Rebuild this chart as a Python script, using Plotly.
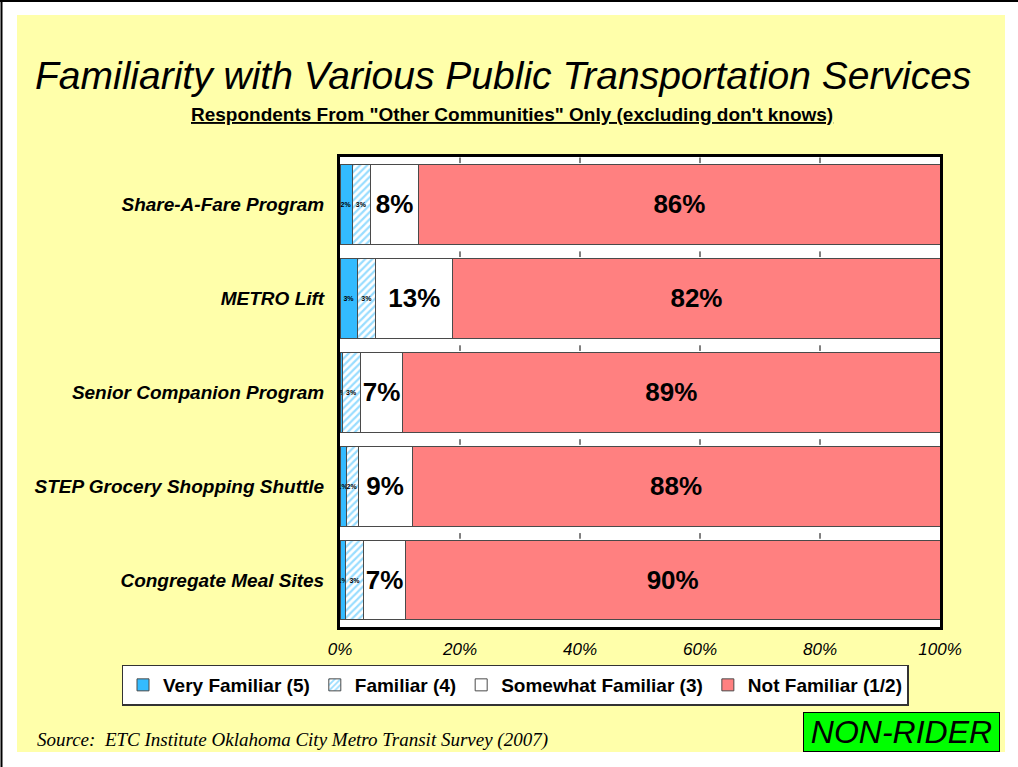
import plotly.graph_objects as go

categories = ["Share-A-Fare Program", "METRO Lift", "Senior Companion Program",
              "STEP Grocery Shopping Shuttle", "Congregate Meal Sites"]
very_familiar = [2, 3, 0.4, 1, 1]
familiar = [3, 3, 3, 2, 3]
somewhat_familiar = [8, 13, 7, 9, 7]
not_familiar = [86, 82, 89, 88, 90]
x_ticks = [0, 20, 40, 60, 80, 100]
x_tick_labels = ["0%", "20%", "40%", "60%", "80%", "100%"]

W, H = 1018, 767
ARIAL = "Arial, Liberation Sans, sans-serif"
TIMES = "Times New Roman, Liberation Serif, serif"
OUTLINE = dict(color="#4a4a4a", width=1)

fig = go.Figure()

def add_series(name, vals, color, small, pattern=None):
    marker = dict(color=color, line=OUTLINE)
    if pattern:
        marker["pattern"] = pattern
    fig.add_trace(go.Bar(
        name=name, y=categories, x=vals, orientation="h",
        marker=marker,
        text=[f"{round(v)}%" for v in vals],
        textposition="inside", insidetextanchor="middle",
        constraintext="none", textangle=0,
        textfont=dict(family=ARIAL, size=7 if small else 26, color="black", weight="bold"),
        hoverinfo="skip",
    ))

add_series("Very Familiar (5)", very_familiar, "#33BBFF", True)
add_series("Familiar (4)", familiar, "white", True,
           pattern=dict(shape="/", fgcolor="#33BBFF", bgcolor="white", size=5, solidity=0.45))
add_series("Somewhat Familiar (3)", somewhat_familiar, "white", False)
add_series("Not Familiar (1/2)", not_familiar, "#FF8080", False)

x0p, x1p = 340 / W, 940 / W
y0p, y1p = 1 - 627 / H, 1 - 157 / H

shapes = [
    dict(type="rect", xref="paper", yref="paper", x0=17 / W, x1=1005 / W,
         y0=1 - 752 / H, y1=1 - 15 / H, fillcolor="#FFFFAA", line=dict(width=0), layer="below"),
    dict(type="rect", xref="x domain", yref="y domain", x0=0, x1=1, y0=0, y1=1,
         fillcolor="white", line=dict(width=0), layer="below"),
    dict(type="line", xref="paper", yref="paper", x0=0, x1=1, y0=1 - 1 / H, y1=1 - 1 / H,
         line=dict(color="black", width=2)),
    dict(type="line", xref="paper", yref="paper", x0=1.5 / W, x1=1.5 / W, y0=0, y1=1,
         line=dict(color="black", width=2)),
]
# short tick marks hanging from each category boundary at the inner x ticks
for i in range(len(categories)):
    for t in x_ticks[1:-1]:
        shapes.append(dict(type="line", xref="x", yref="y", x0=t, x1=t,
                           y0=i - 0.5, y1=i - 0.44, line=dict(color="black", width=1)))

fig.update_layout(
    width=W, height=H,
    margin=dict(l=0, r=0, t=0, b=0),
    paper_bgcolor="white", plot_bgcolor="white",
    barmode="stack", barnorm="percent", bargap=0.15,
    showlegend=True,
    legend=dict(orientation="h", x=515 / W, y=1 - 685 / H, xanchor="center", yanchor="middle",
                bgcolor="white", bordercolor="#333", borderwidth=1.5,
                font=dict(family=ARIAL, size=19, color="black", weight="bold"),
                itemwidth=30, traceorder="normal", tracegroupgap=0),
    xaxis=dict(domain=[x0p, x1p], range=[0, 100], tickvals=x_ticks, ticktext=x_tick_labels,
               showgrid=False,
               showline=True, mirror=True, linecolor="black", linewidth=3,
               ticks="", ticklabelstandoff=5, zeroline=False, automargin=False,
               tickfont=dict(family=ARIAL, size=17, color="black", style="italic")),
    yaxis=dict(domain=[y0p, y1p], autorange="reversed", showline=True, mirror=True,
               linecolor="black", linewidth=3, ticks="", ticklabelstandoff=9,
               automargin=False, showgrid=False,
               tickfont=dict(family=ARIAL, size=19, color="black", style="italic", weight="bold")),
    shapes=shapes,
    annotations=[
        dict(text="Familiarity with Various Public Transportation Services", xref="paper", yref="paper",
             x=503 / W, y=1 - 75 / H, xanchor="center", yanchor="middle", showarrow=False,
             font=dict(family=ARIAL, size=39, color="black", style="italic")),
        dict(text="<u>Respondents From \"Other Communities\" Only (excluding don't knows)</u>",
             xref="paper", yref="paper", x=512 / W, y=1 - 114 / H, xanchor="center", yanchor="middle",
             showarrow=False, font=dict(family=ARIAL, size=19, color="black", weight="bold")),
        dict(text="Source:  ETC Institute Oklahoma City Metro Transit Survey (2007)", xref="paper",
             yref="paper", x=35 / W, y=1 - 740 / H, xanchor="left", yanchor="middle", showarrow=False,
             font=dict(family=TIMES, size=19, color="black", style="italic")),
        dict(text="NON-RIDER", xref="paper", yref="paper", x=901.5 / W, y=1 - 732 / H,
             xanchor="center", yanchor="middle", showarrow=False, width=193, height=36,
             bgcolor="#00FF00", bordercolor="black", borderwidth=1,
             font=dict(family=ARIAL, size=32, color="black", style="italic")),
    ],
)

fig.write_html("out.html", config={"displayModeBar": False},
               post_script="document.body.style.margin='0';document.body.style.overflow='hidden';")
